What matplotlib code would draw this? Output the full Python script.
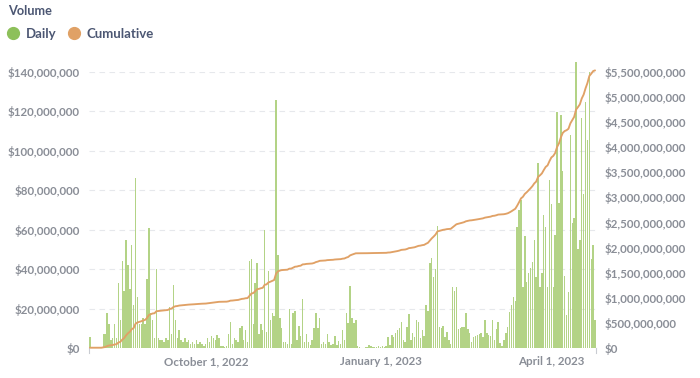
import numpy as np
import pandas as pd
import matplotlib
matplotlib.use("Agg")
import matplotlib.pyplot as plt
import matplotlib.dates as mdates
from matplotlib.ticker import FuncFormatter, MultipleLocator
from matplotlib.lines import Line2D

plt.rcParams['font.family'] = ['Lato', 'DejaVu Sans']

# daily volume in millions of dollars, one value per day from Aug 1, 2022
start_date = "2022-08-01"
daily_m = [
    5.7, 0, 0, 0, 0, 0, 0, 7, 7, 18,
    12, 4, 5, 12, 5, 33, 14, 44, 29, 55,
    42, 30, 52, 22, 86, 26, 12, 12, 15, 12,
    35, 61, 18, 14, 5, 40, 5, 4, 4, 3,
    5, 4, 21, 7, 32, 14, 5, 9, 4, 3,
    5, 3, 4, 2, 3, 2, 4, 2, 3, 2,
    1, 2, 5, 3, 6, 5, 4, 6.5, 5, 1,
    1, 0.5, 1, 7, 13, 2, 5, 4, 3, 10,
    11, 4, 9, 3, 44, 45, 12, 33, 43, 7,
    12, 9, 60, 8, 39, 14, 18, 16, 126, 47,
    15, 10, 3, 3, 2, 20, 2, 18, 19, 4,
    11, 6, 25, 3, 7, 3, 1.5, 4, 10, 18,
    10, 15, 2, 3, 2, 7, 3, 1.5, 2, 6,
    1.5, 3.5, 2, 9, 4, 17.6, 12.5, 31.6, 15, 12.5,
    14, 1, 0.3, 0.2, 0, 0.3, 0.5, 1.5, 1, 0.3,
    0.5, 0.5, 0.8, 0.5, 0.8, 0.5, 1, 5.7, 1.5, 6.6,
    5.4, 7.4, 9, 10, 13.4, 4, 3, 10.8, 17.3, 4,
    7.4, 5.7, 14, 13.4, 5, 9, 6, 22, 19, 43,
    45.5, 36, 40, 62, 10.8, 10, 11.4, 5.7, 8.3, 4,
    2, 31, 29, 31, 9.5, 10, 10.8, 10.8, 18, 9.5,
    7.4, 3, 5.7, 6, 6.6, 7, 7.8, 5.7, 14, 7.4,
    6.6, 6, 14, 4, 9.5, 13.4, 2.4, 1, 4, 7.8,
    10.8, 18.4, 22, 26, 24, 61.6, 70, 75, 31, 57,
    33.7, 38, 40.4, 43.5, 55, 36, 94, 31, 38, 67.5,
    61.6, 31, 85, 73, 31, 57.4, 119.5, 73.4, 118, 90,
    36.5, 16.8, 28.6, 108, 63.6, 65.8, 145, 50, 55, 116.6,
    78, 125, 105.6, 140, 45, 52, 14.2,
]

left_ticks = [0, 20e6, 40e6, 60e6, 80e6, 100e6, 120e6, 140e6]
right_max = 5.5e9
x_tick_dates = ["2022-10-01", "2023-01-01", "2023-04-01"]

dates = pd.date_range(start_date, periods=len(daily_m), freq="D")
daily = np.array(daily_m) * 1e6
cumulative = np.cumsum(daily)

green = "#B3D386"
green_dot = "#8DC05A"
orange = "#E0A166"
tick_col = "#8A8E97"
text_col = "#4C5773"
grid_col = "#E6E8EC"

fig = plt.figure(figsize=(7, 3.78), dpi=100)
ax = fig.add_axes([89 / 700, 30 / 378, 507 / 700, 276 / 378])
ax2 = ax.twinx()

xd = mdates.date2num(dates)
ax.bar(xd, daily, width=0.75, color=green, lw=0, clip_on=False, zorder=2)
ax2.plot(xd, cumulative, color=orange, lw=1.35, clip_on=False, zorder=3,
         solid_capstyle="round")

ax.set_xlim(xd[0] - 0.5, xd[-1] + 0.5)
ax.set_ylim(0, left_ticks[-1])
ax2.set_ylim(0, right_max)

ax.set_yticks(left_ticks)
ax.yaxis.set_major_formatter(FuncFormatter(lambda v, p: f"${v:,.0f}"))
ax2.yaxis.set_major_locator(MultipleLocator(5e8))
ax2.yaxis.set_major_formatter(FuncFormatter(lambda v, p: f"${v:,.0f}"))

ax.set_xticks(mdates.date2num(pd.to_datetime(x_tick_dates)))
ax.xaxis.set_major_formatter(FuncFormatter(
    lambda v, p: (lambda d: f"{d:%B} {d.day}, {d.year}")(mdates.num2date(v))))

for a in (ax, ax2):
    for s in a.spines.values():
        s.set_visible(False)
    a.tick_params(length=0, labelsize=8.3, labelcolor=tick_col)
    for lab in a.get_yticklabels() + a.get_xticklabels():
        lab.set_fontweight("bold")
ax.tick_params(axis="y", pad=6.5)
ax2.tick_params(axis="y", pad=6)
ax.tick_params(axis="x", pad=6)

ax.set_axisbelow(True)
ax.grid(axis="y", color=grid_col, linestyle=(0, (5, 4)), lw=0.8)
ax.grid(axis="x", visible=False)

# small end marks on the x axis
for xa in (0, 1):
    ax.plot([xa, xa], [-0.018, 0.0], transform=ax.transAxes, color="#C9CCD2",
            lw=0.8, clip_on=False)

fig.text(8 / 700, 1 - 11 / 378, "Volume", fontsize=9.2, fontweight="bold",
         color=text_col, va="center", ha="left")
handles = [
    Line2D([], [], marker="o", ls="", markersize=8.5, color=green_dot),
    Line2D([], [], marker="o", ls="", markersize=8.5, color=orange),
]
fig.legend(handles, ["Daily", "Cumulative"], loc="center left",
           bbox_to_anchor=(7 / 700, 1 - 34 / 378), ncol=2, frameon=False,
           handlelength=0.9, handletextpad=0.5, columnspacing=0.9,
           prop={"size": 9.5, "weight": "bold"}, labelcolor=text_col,
           borderaxespad=0, borderpad=0)

fig.savefig("out.png", dpi=100)
